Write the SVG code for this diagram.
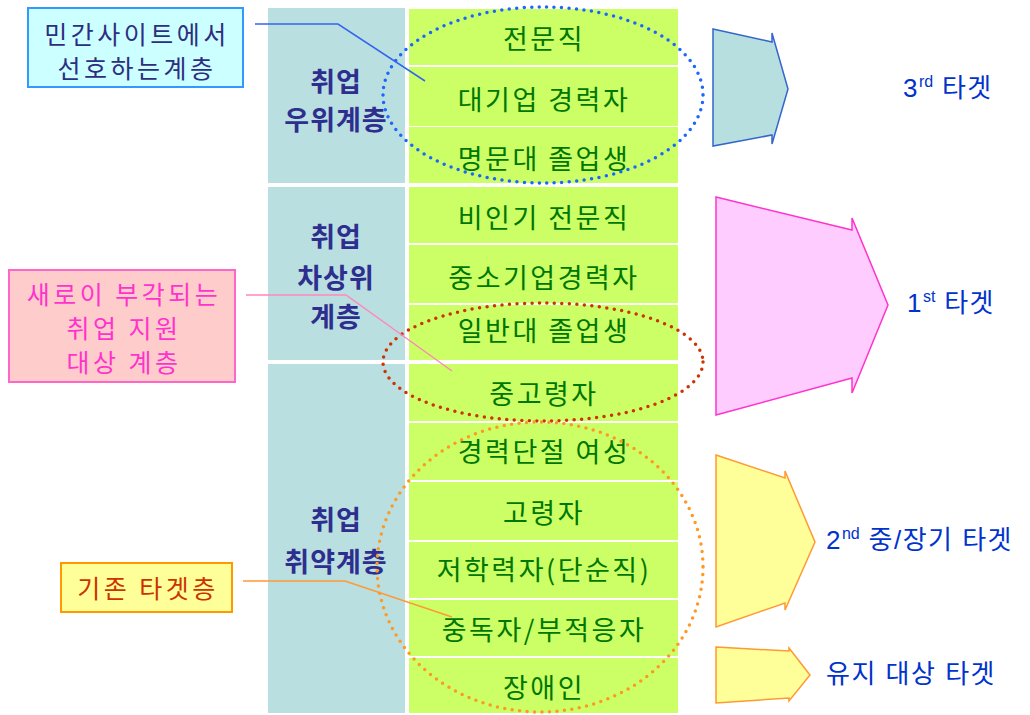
<svg xmlns="http://www.w3.org/2000/svg" width="1030" height="715" viewBox="0 0 1030 715">
<style>
.grp{fill:#BADFE1}
.row{fill:#CCFF66}
.rt{font-family:"Noto Sans CJK KR","Liberation Sans",sans-serif;font-size:27px;letter-spacing:2.5px;fill:#007700;text-anchor:middle;dominant-baseline:central}
.gt{font-family:"Noto Sans CJK KR","Liberation Sans",sans-serif;font-size:27px;letter-spacing:1px;font-weight:bold;fill:#2E2E8F;text-anchor:middle;dominant-baseline:central}
.ct{font-family:"Noto Sans CJK KR","Liberation Sans",sans-serif;font-size:25px;letter-spacing:3.5px;text-anchor:middle;dominant-baseline:central}
.tt{font-family:"Liberation Sans","Noto Sans CJK KR",sans-serif;font-size:26px;letter-spacing:1.5px;fill:#0033CC}
.sup{font-size:16px;letter-spacing:0}
.ell{fill:none;stroke-width:3.5;stroke-linecap:round;stroke-dasharray:0 7.5}
</style>
<rect width="1030" height="715" fill="#FFFFFF"/>

<g id="group-top">
<rect class="grp" x="268" y="8" width="137" height="175"/>
<text class="gt" x="336" y="80">취업</text>
<text class="gt" x="336" y="118">우위계층</text>
</g>
<g id="group-mid">
<rect class="grp" x="268" y="187" width="137" height="173"/>
<text class="gt" x="336" y="235">취업</text>
<text class="gt" x="336" y="276">차상위</text>
<text class="gt" x="336" y="315">계층</text>
</g>
<g id="group-low">
<rect class="grp" x="268" y="364" width="137" height="349"/>
<text class="gt" x="336" y="518">취업</text>
<text class="gt" x="336" y="560">취약계층</text>
</g>

<g id="row-1"><rect class="row" x="409" y="9" width="269" height="56"/><text class="rt" x="544" y="37">전문직</text></g>
<g id="row-2"><rect class="row" x="409" y="67" width="269" height="59"/><text class="rt" x="544" y="98">대기업 경력자</text></g>
<g id="row-3"><rect class="row" x="409" y="127" width="269" height="56"/><text class="rt" x="544" y="157">명문대 졸업생</text></g>
<g id="row-4"><rect class="row" x="409" y="187" width="269" height="56"/><text class="rt" x="544" y="216">비인기 전문직</text></g>
<g id="row-5"><rect class="row" x="409" y="245" width="269" height="58"/><text class="rt" x="544" y="276">중소기업경력자</text></g>
<g id="row-6"><rect class="row" x="409" y="305" width="269" height="55"/><text class="rt" x="544" y="329">일반대 졸업생</text></g>
<g id="row-7"><rect class="row" x="409" y="364" width="269" height="57"/><text class="rt" x="544" y="392">중고령자</text></g>
<g id="row-8"><rect class="row" x="409" y="423" width="269" height="57"/><text class="rt" x="544" y="450">경력단절 여성</text></g>
<g id="row-9"><rect class="row" x="409" y="482" width="269" height="58"/><text class="rt" x="544" y="511">고령자</text></g>
<g id="row-10"><rect class="row" x="409" y="542" width="269" height="56"/><text class="rt" x="544" y="568">저학력자(단순직)</text></g>
<g id="row-11"><rect class="row" x="409" y="600" width="269" height="56"/><text class="rt" x="544" y="628">중독자/부적응자</text></g>
<g id="row-12"><rect class="row" x="409" y="658" width="269" height="55"/><text class="rt" x="544" y="686">장애인</text></g>

<g id="ellipses">
<ellipse class="ell" cx="543" cy="95" rx="160" ry="88" stroke="#1A66FF"/>
<ellipse class="ell" cx="543" cy="362" rx="160" ry="59" stroke="#CC3300"/>
<ellipse class="ell" cx="540" cy="567" rx="163" ry="145" stroke="#FF9922"/>
</g>

<g id="connectors" fill="none" stroke-width="1.5">
<polyline points="255,24 338,24 425,81" stroke="#3366EE"/>
<polyline points="246,295 346,295 452,371" stroke="#FF88BB"/>
<polyline points="243,581 345,581 452,617" stroke="#FF9933"/>
</g>

<g id="callout-private">
<rect x="28" y="8" width="215" height="79" fill="#CCFFFF" stroke="#3399FF" stroke-width="2"/>
<text class="ct" x="137" y="33" fill="#2E2E80">민간사이트에서</text>
<text class="ct" x="137" y="67" fill="#2E2E80">선호하는계층</text>
</g>
<g id="callout-new">
<rect x="9" y="270" width="226" height="112" fill="#FFCCCC" stroke="#FF66CC" stroke-width="2"/>
<text class="ct" x="124" y="293" fill="#FF33CC">새로이 부각되는</text>
<text class="ct" x="124" y="327" fill="#FF33CC">취업 지원</text>
<text class="ct" x="124" y="361" fill="#FF33CC">대상 계층</text>
</g>
<g id="callout-existing">
<rect x="61" y="563" width="171" height="49" fill="#FFFF99" stroke="#FF9900" stroke-width="2"/>
<text class="ct" x="148" y="587" fill="#CC3300">기존 타겟층</text>
</g>

<g id="arrow-3rd">
<polygon points="713,29 772,42 772,33 788,89 772,144 772,135 713,146" fill="#B8DFE0" stroke="#3366CC" stroke-width="1.5"/>
<text class="tt" x="903" y="97">3<tspan class="sup" dy="-10">rd</tspan><tspan dy="10"> 타겟</tspan></text>
</g>
<g id="arrow-1st">
<polygon points="716,197 852,230 852,218 888,305 852,393 852,378 716,415" fill="#FFCCFF" stroke="#FF33CC" stroke-width="1.5"/>
<text class="tt" x="907" y="312">1<tspan class="sup" dy="-10">st</tspan><tspan dy="10"> 타겟</tspan></text>
</g>
<g id="arrow-2nd">
<polygon points="716,455 785,478 785,471 815,542 785,610 785,603 716,627" fill="#FFFF99" stroke="#FF9933" stroke-width="1.5"/>
<text class="tt" x="826" y="549">2<tspan class="sup" dy="-10">nd</tspan><tspan dy="10"> 중/장기 타겟</tspan></text>
</g>
<g id="arrow-keep">
<polygon points="716,647 789,651 789,648 810,675 789,701 789,698 716,703" fill="#FFFF99" stroke="#FF9933" stroke-width="1.5"/>
<text class="tt" x="826" y="683">유지 대상 타겟</text>
</g>
</svg>
